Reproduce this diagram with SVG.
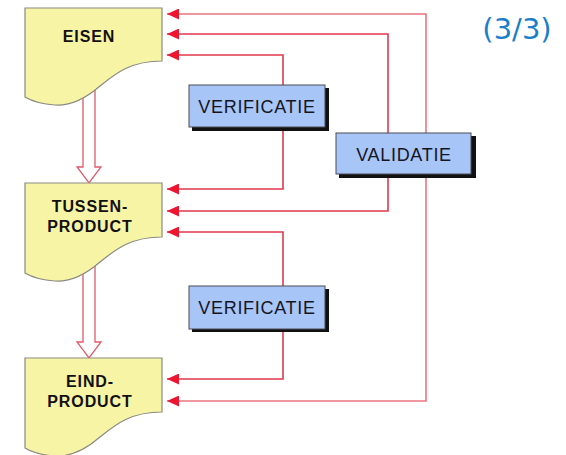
<svg xmlns="http://www.w3.org/2000/svg" width="566" height="455" viewBox="0 0 566 455">
<style>
.doc{fill:#f8f4a6;stroke:#8a8a80;stroke-width:1.2}
.dt{font-family:"Liberation Sans",Arial,sans-serif;font-weight:bold;font-size:16px;letter-spacing:0.9px;fill:#111;text-anchor:middle}
.box{fill:#a7c6f7;stroke:#4a4a55;stroke-width:1}
.shadow{fill:#111}
.bt{font-family:"Liberation Sans",Arial,sans-serif;font-size:18px;letter-spacing:0.7px;fill:#15151f;text-anchor:middle}
.c{fill:none;stroke:#e3394c;stroke-width:1.6}
.co{fill:none;stroke:#ec7480;stroke-width:1.6}
.flow{fill:#fff;stroke:#e05a6a;stroke-width:1.3}
</style>
<defs>
<marker id="ah" markerUnits="userSpaceOnUse" markerWidth="13" markerHeight="11" refX="12" refY="5.5" orient="auto">
<path d="M0,0 L12,5.5 L0,11 Z" fill="#ee1530"/>
</marker>
</defs>
<g id="connectors">
<path class="co" d="M426,133 L426,14 L167,14" marker-end="url(#ah)"/>
<path class="co" d="M426,177 L426,401 L167,401" marker-end="url(#ah)"/>
<path class="c" d="M388,133 L388,34 L167,34" marker-end="url(#ah)"/>
<path class="c" d="M388,177 L388,211 L167,211" marker-end="url(#ah)"/>
<path class="c" d="M283,85 L283,55 L167,55" marker-end="url(#ah)"/>
<path class="c" d="M283,128 L283,189 L167,189" marker-end="url(#ah)"/>
<path class="c" d="M283,286 L283,232 L167,232" marker-end="url(#ah)"/>
<path class="c" d="M283,330 L283,379 L167,379" marker-end="url(#ah)"/>
<path class="flow" d="M83,90 L83,167 L77,167 L89,183 L101,167 L95,167 L95,90"/>
<path class="flow" d="M83,265 L83,342 L77,342 L89,358 L101,342 L95,342 L95,265"/>
</g>
<g id="eisen">
<path class="doc" d="M25,8 L162,8 L162,61 C130,61 115,74 100,86 C85,99 70,106 55,105 C40,104 30,100 25,97 Z"/>
<text class="dt" x="89" y="42">EISEN</text>
</g>
<g id="tussenproduct">
<path class="doc" d="M25,183 L162,183 L162,237 C130,237 115,250 100,262 C85,275 70,282 55,281 C40,280 30,276 25,273 Z"/>
<text class="dt" x="90" y="212">TUSSEN-</text>
<text class="dt" x="90" y="232">PRODUCT</text>
</g>
<g id="eindproduct">
<path class="doc" d="M25,358 L162,358 L162,412 C130,412 115,425 100,437 C85,450 70,457 55,456 C40,455 30,451 25,448 Z"/>
<text class="dt" x="90" y="387">EIND-</text>
<text class="dt" x="90" y="407">PRODUCT</text>
</g>
<g id="verificatie1">
<rect class="shadow" x="192" y="88" width="137" height="43"/>
<rect class="box" x="189" y="85" width="136" height="42"/>
<text class="bt" x="257" y="113">VERIFICATIE</text>
</g>
<g id="validatie">
<rect class="shadow" x="339" y="136" width="137" height="42"/>
<rect class="box" x="336" y="133" width="135" height="41"/>
<text class="bt" x="404" y="161">VALIDATIE</text>
</g>
<g id="verificatie2">
<rect class="shadow" x="192" y="289" width="137" height="43"/>
<rect class="box" x="189" y="286" width="136" height="43"/>
<text class="bt" x="257" y="314">VERIFICATIE</text>
</g>
<text id="pagenum" x="517" y="39" font-family="'DejaVu Sans',Verdana,sans-serif" font-size="29" fill="#1a7fc8" text-anchor="middle">(3/3)</text>
</svg>
